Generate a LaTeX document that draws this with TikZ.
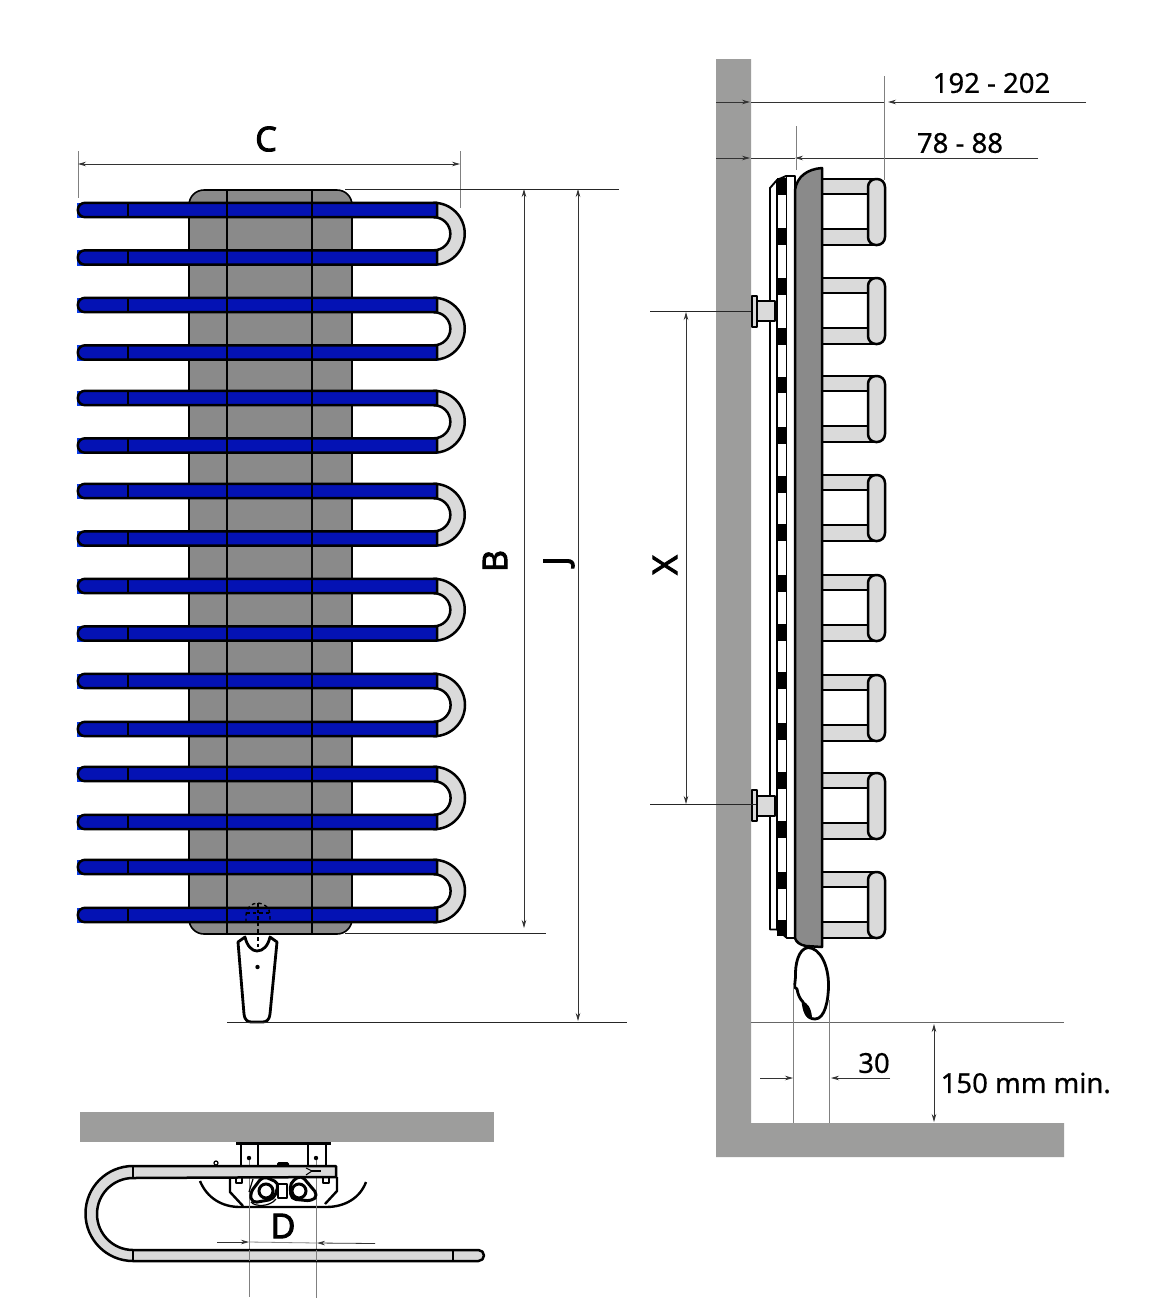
\documentclass[tikz,border=0pt]{standalone}
\usepackage{fontspec}
\setmainfont{Noto Sans}
\newfontfamily\bigfont{Open Sans}[FakeBold=3]
\usetikzlibrary{arrows.meta}
\definecolor{wallgray}{HTML}{9D9D9C}
\definecolor{panelgray}{HTML}{8A8A8A}
\definecolor{tubegray}{HTML}{DADADA}
\definecolor{tubeblue}{HTML}{0412B4}
\definecolor{brightblue}{HTML}{0A3CE6}
\tikzset{
  wall/.style={fill=wallgray,draw=none},
  outline/.style={draw=black,line width=2.5pt,line join=round},
  tube/.style={outline,fill=tubegray},
  dimline/.style={draw=black!80,line width=0.8pt},
  extline/.style={draw=black!85,line width=0.8pt},
  grayline/.style={draw=black!50,line width=1pt},
  dimarrow/.style={dimline,-{Stealth[length=8pt,width=4.5pt]}},
  dimboth/.style={dimline,{Stealth[length=8pt,width=4.5pt]}-{Stealth[length=8pt,width=4.5pt]}},
  dimtext/.style={inner sep=0pt,font=\fontsize{27.5}{30}\selectfont\addfontfeature{FakeBold=0.5}},
  bigtext/.style={inner sep=0pt,font=\bigfont\fontsize{34}{40}\selectfont},
}
\begin{document}
\begin{tikzpicture}[x=1pt,y=-1pt]
\useasboundingbox (0,0) rectangle (1152,1302);
\fill[white] (0,0) rectangle (1152,1302);

% ---------- front view ----------
\draw[outline,line width=1.6pt,fill=panelgray,rounded corners=15pt] (189,190) rectangle (352,934);
\foreach \a/\b in {210/257.5,305/352.5,398/445.5,491/538.5,586/633.5,681/729,774/822,867/915}{
  \pgfmathsetmacro{\rad}{(\b-\a)/2}
  \pgfmathsetmacro{\ro}{\rad+7.2}
  \pgfmathsetmacro{\ri}{\rad-7.2}
  % U bend
  \draw[tube] (433.8,\a-7.2) arc[start angle=-90,end angle=90,radius=\ro] -- (433.8,\b-7.2)
     arc[start angle=90,end angle=-90,radius=\ri] -- cycle;
  \foreach \c in {\a,\b}{
    \fill[brightblue] (77,\c-7.5) rectangle (438,\c+8.3);
    \fill[tubeblue] (79,\c-7) rectangle (437,\c+7);
    \draw[outline] (437,\c-7.2) -- (85,\c-7.2) arc[start angle=-90,end angle=-270,radius=7.2] -- (437,\c+7.2) -- cycle;
    \draw[outline,line width=1.6pt] (128,\c-7.2) -- (128,\c+7.2);
  }
}
\draw[outline,line width=1.8pt] (227,190) -- (227,934);
\draw[outline,line width=1.8pt] (312,190) -- (312,934);

% dashed valve
\draw[black,line width=1.4pt,dash pattern=on 3.5pt off 3pt] (246,922) -- (246,915) arc[start angle=180,end angle=360,radius=12] -- (270,922);
\draw[black,line width=1.4pt,dash pattern=on 3.5pt off 3pt] (246,913) -- (270,913);
\draw[black,line width=1.4pt,dash pattern=on 3.5pt off 3pt] (258,903) -- (258,934);

% foot
\draw[outline,fill=white,line width=2.8pt] (238,942) -- (245,937) .. controls (247,946) and (252,951) .. (257,951)
  .. controls (263,951) and (268,946) .. (270,937) -- (277,942) -- (270,1014)
  .. controls (269,1021) and (266,1022) .. (262,1022) -- (252,1022)
  .. controls (248,1022) and (245,1021) .. (244,1014) -- cycle;
\fill[black] (257.5,967) circle (2.2);
\draw[black,line width=1.4pt,dash pattern=on 3.5pt off 3pt] (258,937) -- (258,950);

% front dimensions
\coordinate (cL) at (78,164); \coordinate (cR) at (460,164);
\coordinate (cLt) at (78,151); \coordinate (cLb) at (78,198);
\coordinate (cRt) at (460,151); \coordinate (cRb) at (460,208);
\draw[grayline] (cLt) -- (cLb);
\draw[grayline] (cRt) -- (cRb);
\draw[dimboth] (cL) -- (cR);
\node[bigtext] (labelC) at (266,139) {C};

\coordinate (topA) at (345,189); \coordinate (topB) at (619,189);
\coordinate (botA) at (345,933.5); \coordinate (botB) at (546,933.5);
\coordinate (floorA) at (227,1022.5); \coordinate (floorB) at (627,1022.5);
\draw[extline] (topA) -- (topB);
\draw[extline] (botA) -- (botB);
\draw[extline] (floorA) -- (floorB);
\coordinate (bT) at (524,189); \coordinate (bB) at (524,928);
\coordinate (jT) at (578,189); \coordinate (jB) at (578,1021);
\draw[dimboth] (bT) -- (bB);
\draw[dimboth] (jT) -- (jB);
\node[bigtext,rotate=90] (labelB) at (495,561) {B};
\node[bigtext,rotate=90] (labelJ) at (559,561) {J};

% ---------- side view ----------
\fill[wall] (716,59) -- (751,59) -- (751,1123) -- (1064,1123) -- (1064,1157) -- (716,1157) -- cycle;

% radiator layers
\draw[outline,fill=white,line width=1.9pt] (770,188) -- (777,180) -- (786,176) -- (795,176) -- (795,938) -- (787,938) -- (777,929.5) -- (770,929.5) -- cycle;
\draw[outline,line width=1.9pt] (777,180) -- (777,929.5);
\draw[outline,line width=1.9pt] (786.5,176) -- (786.5,938);
\foreach \yb/\ye in {178/195,228/245,278/295,328/345,377/393,427/444,476/493,524/541,575/592,624/641,672/689,723/740,772/789,821/838,872/889,920/936}{
  \fill[black] (777,\yb) rectangle (787,\ye);
}
\foreach \yb/\ye in {195/228,245/278,295/328,345/377,393/427,444/476,493/524,541/575,592/624,641/672,689/723,740/772,789/821,838/872,889/920}{
  \fill[white] (779.5,\yb) rectangle (784.5,\ye);
}
\foreach \t in {179,278,376,475,575,675,773,872}{
  \draw[tube] (822,\t) -- (875,\t) -- (875,\t+15) -- (822,\t+15) -- cycle;
  \draw[tube] (822,\t+50) -- (875,\t+50) -- (875,\t+66) -- (822,\t+66) -- cycle;
  \draw[tube,rounded corners=8pt] (868,\t) rectangle (885,\t+66);
}
\draw[outline,fill=panelgray] (795,938) -- (795,190) .. controls (797,176) and (808,169) .. (822,168) -- (822,947) -- (806,946) .. controls (800,945) and (796,942) .. (795,938) -- cycle;

% brackets
\foreach \m in {311,805.5}{
  \draw[tube,line width=2pt] (756.5,\m-10) rectangle (775,\m+10);
  \draw[tube,line width=2pt] (751.5,\m-15.5) rectangle (757,\m+15.5);
}

% valve head
\draw[outline,fill=white,line width=2.8pt] (808,947.5) .. controls (798,949) and (795,965) .. (795.5,977)
  -- (794.5,987) -- (797,989) .. controls (798,995) and (800,999) .. (803,1002)
  .. controls (804,1010) and (806,1019) .. (815,1019) .. controls (825,1019) and (828.5,1000) .. (828.5,985)
  .. controls (828.5,965) and (820,948) .. (808,947.5) -- cycle;
\fill[black] (802,1001) .. controls (808,1003) and (811,1008) .. (812,1017) -- (808,1018) .. controls (804,1015) and (803,1008) .. (802,1001) -- cycle;

% side dimensions
\coordinate (a1) at (716,102); \coordinate (a2) at (750,102);
\coordinate (a3) at (751,102); \coordinate (a4) at (884,102);
\coordinate (a5) at (1086,102); \coordinate (a6) at (888,102);
\draw[dimarrow] (a1) -- (a2);
\draw[dimline] (a3) -- (a4);
\draw[dimarrow] (a5) -- (a6);
\coordinate (b1) at (716,158); \coordinate (b2) at (750,158);
\coordinate (b3) at (751,158); \coordinate (b4) at (795,158);
\coordinate (b5) at (1038,158);
\draw[dimarrow] (b1) -- (b2);
\draw[dimline] (b3) -- (b4);
\draw[dimarrow] (b5) -- (b4);
\coordinate (v1) at (884,76); \coordinate (v2) at (884,180);
\coordinate (v3) at (796,126); \coordinate (v4) at (796,170);
\draw[grayline] (v1) -- (v2);
\draw[grayline] (v3) -- (v4);
\node[dimtext] (d192) at (991.5,83) {192 - 202};
\node[dimtext] (d78) at (960,143) {78 - 88};

\coordinate (x1) at (650,311); \coordinate (x2) at (751,311);
\coordinate (x3) at (650,804.5); \coordinate (x4) at (756,804.5);
\coordinate (xT) at (686,312); \coordinate (xB) at (686,804);
\draw[extline] (x1) -- (x2);
\draw[extline] (x3) -- (x4);
\draw[dimboth] (xT) -- (xB);
\node[bigtext,rotate=90] (labelX) at (665,565) {X};

\coordinate (fl1) at (751,1022.5); \coordinate (fl2) at (1064,1022.5);
\draw[grayline,draw=black!60] (fl1) -- (fl2);
\coordinate (h1) at (793,985); \coordinate (h2) at (793,1123);
\coordinate (h3) at (829,1000); \coordinate (h4) at (829,1123);
\draw[grayline,line width=0.9pt] (h1) -- (h2);
\draw[grayline,line width=0.9pt] (h3) -- (h4);
\coordinate (t1) at (760,1078); \coordinate (t2) at (793,1078);
\coordinate (t3) at (890,1078); \coordinate (t4) at (831,1078);
\draw[dimarrow] (t1) -- (t2);
\draw[dimarrow] (t3) -- (t4);
\node[dimtext] (d30) at (874,1063) {30};
\coordinate (m1) at (934,1024); \coordinate (m2) at (934,1122);
\draw[dimboth] (m1) -- (m2);
\node[dimtext,anchor=west] (d150) at (940.5,1083) {150 mm min.};

% ---------- top view ----------
\fill[wall] (80,1112) rectangle (494,1142);

% curved cover and housing
\draw[outline,line width=2.4pt] (200,1181) .. controls (207,1198) and (222,1207) .. (240,1207) -- (326,1207) .. controls (345,1207) and (360,1198) .. (366,1182);
\draw[outline,line width=2.4pt] (230,1177) -- (230,1192) -- (243,1206);
\draw[outline,line width=2.4pt] (337,1177) -- (337,1191) -- (325,1204);
\draw[outline,line width=1.5pt] (236,1177) rectangle (242,1183);
\draw[outline,line width=1.5pt] (323,1177) rectangle (329,1183);

% gray centre lines below the tube
\coordinate (dL) at (249,1158); \coordinate (dLb) at (249,1297);
\coordinate (dR) at (316,1158); \coordinate (dRb) at (316,1298);
\draw[grayline] (dL) -- (dLb);
\draw[grayline] (dR) -- (dRb);

% fittings
\draw[outline,fill=white,line width=1.6pt] (278,1184) rectangle (287,1198);
\draw[outline,line width=3pt,rounded corners=5pt,fill=white] (250,1193) -- (263,1176) -- (279,1183) -- (274,1199) -- (252,1203) -- cycle;
\draw[outline,line width=3pt,rounded corners=5pt,fill=white] (290,1183) -- (301,1175) -- (318,1195) -- (312,1201) -- (291,1199) -- cycle;
\draw[black,line width=3pt,fill=white] (266,1191) circle (7);
\draw[black,line width=3pt,fill=white] (299,1191) circle (7);
\draw[black,line width=1.2pt] (251,1202) .. controls (255,1207) and (270,1207) .. (276,1199);
\draw[black,line width=1.2pt] (253,1179) -- (249,1192);

% bracket
\draw[outline,line width=2pt] (241,1143) -- (241,1166) (258,1143) -- (258,1166);
\draw[outline,line width=2pt] (308,1143) -- (308,1166) (326,1143) -- (326,1166);
\draw[black,line width=3pt] (236,1143.5) -- (331,1143.5);
\fill[black,rounded corners=1.5pt] (277,1162) rectangle (289,1167);
\draw[black,line width=1.2pt,fill=white] (216,1163) circle (2);

% U tube
\draw[tube] (336,1166) -- (133,1166) arc[start angle=-90,end angle=-270,radius=47.5] -- (478.5,1261)
   arc[start angle=90,end angle=-90,radius=5.5] -- (133,1250)
   arc[start angle=90,end angle=270,radius=36] -- (336,1177) -- cycle;
\draw[outline] (133,1166) -- (133,1177);
\draw[outline] (133,1250) -- (133,1261);
\draw[outline,line width=1.6pt] (453,1250) -- (453,1261);
\draw[black,line width=1pt] (306,1168) -- (312,1171) -- (306,1175);
\fill[black] (311,1169.5) rectangle (321,1172);
\draw[grayline] (249,1250) -- (249,1261);
\draw[grayline] (316,1250) -- (316,1261);

% bolts
\fill[black] (249,1158) circle (2.2);
\fill[black] (316,1158) circle (2.2);
\coordinate (e1) at (217,1242); \coordinate (e2) at (249,1242);
\coordinate (e3) at (375,1243.5); \coordinate (e4) at (317,1243);
\draw[dimarrow] (e1) -- (e2);
\draw[dimarrow] (e3) -- (e4);
\draw[grayline,line width=0.8pt] (e2) -- (e4);
\node[bigtext] (labelD) at (283,1226) {D};
\end{tikzpicture}
\end{document}
